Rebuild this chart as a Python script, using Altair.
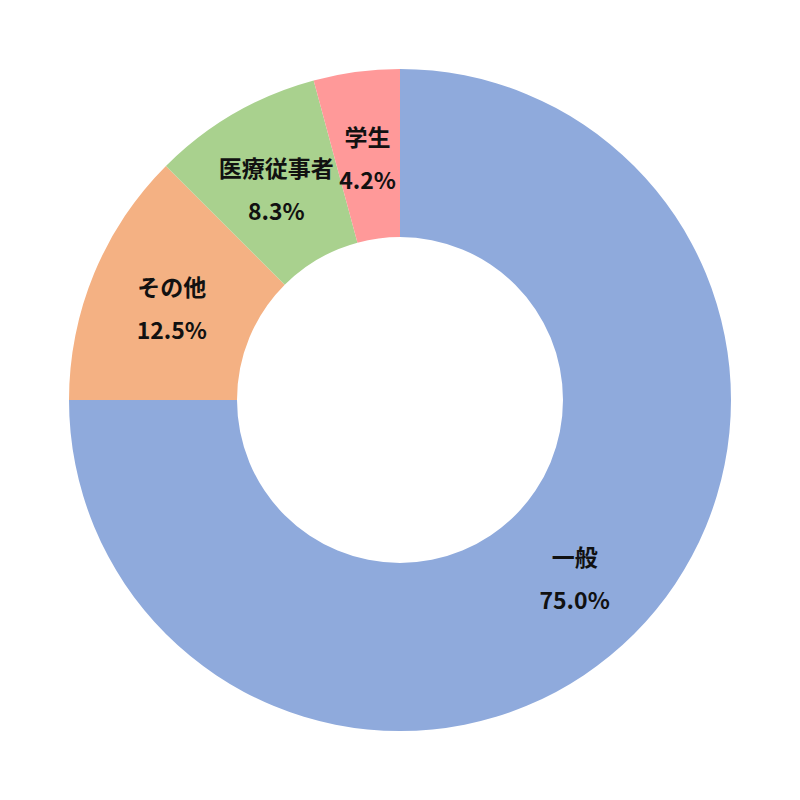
import altair as alt
import pandas as pd

categories = ["一般", "その他", "医療従事者", "学生"]
values = [75.0, 12.5, 8.3, 4.2]
colors = ["#8FAADC", "#F4B183", "#A9D18E", "#FF9999"]

df = pd.DataFrame({
    "category": categories,
    "value": values,
    "order": list(range(len(categories))),
})
df["label"] = [f"{c}\n{v:.1f}%" for c, v in zip(categories, values)]

base = alt.Chart(df).encode(
    theta=alt.Theta("value:Q", stack=True),
    order=alt.Order("order:Q", sort="ascending"),
)

arcs = base.mark_arc(outerRadius=331, innerRadius=163, stroke=None).encode(
    color=alt.Color("category:N", scale=alt.Scale(domain=categories, range=colors), legend=None),
)

labels = base.mark_text(
    radius=247,
    fontSize=23,
    fontWeight="bold",
    font="Noto Sans CJK JP",
    color="#111111",
    lineBreak="\n",
    lineHeight=43,
    align="center",
    baseline="middle",
    dy=-16,
).encode(text="label:N")

chart = (arcs + labels).properties(width=774, height=774).configure_view(stroke=None)

chart.save("out.html", embed_options={"renderer": "svg", "actions": False})
